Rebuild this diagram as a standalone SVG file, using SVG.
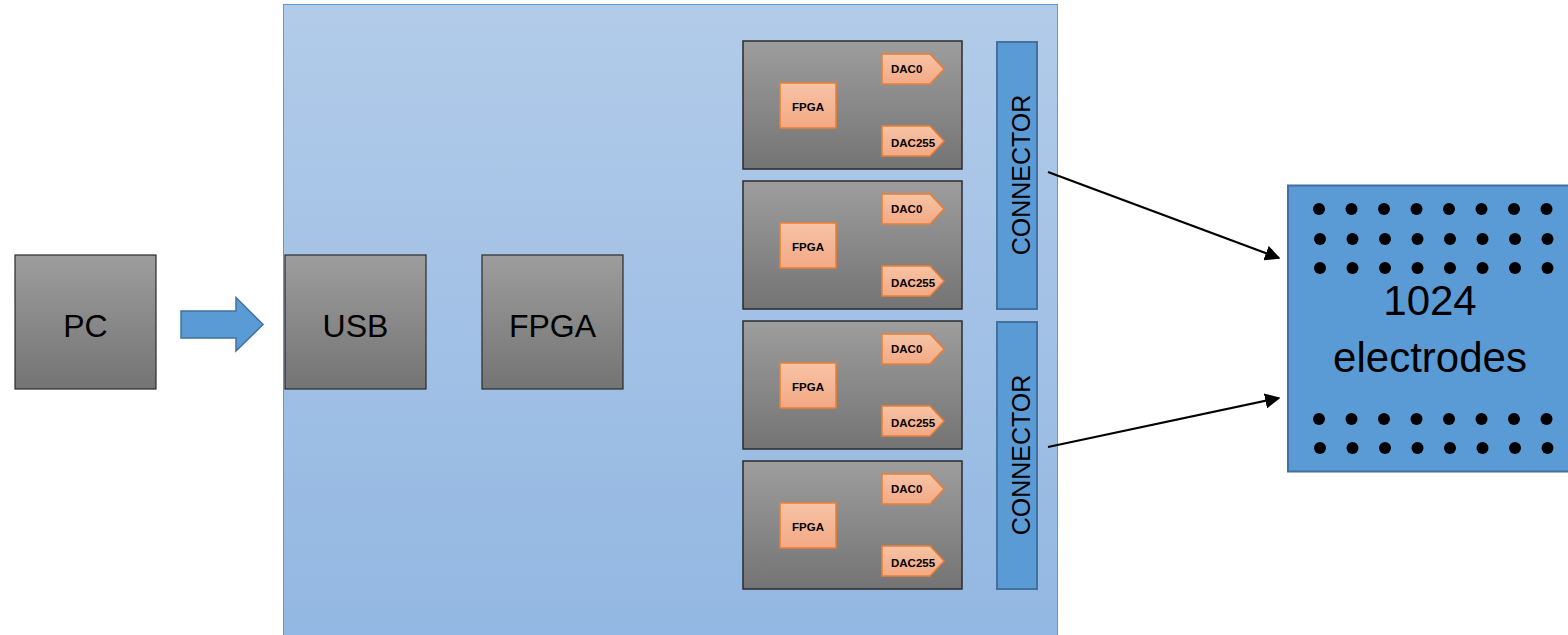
<svg xmlns="http://www.w3.org/2000/svg" width="1568" height="635" viewBox="0 0 1568 635">
<defs>
<linearGradient id="gBoard" x1="0" y1="0" x2="0" y2="1"><stop offset="0" stop-color="#b2cbe9"/><stop offset="1" stop-color="#92b7e2"/></linearGradient>
<linearGradient id="gGray" x1="0" y1="0" x2="0" y2="1"><stop offset="0" stop-color="#9d9d9d"/><stop offset="1" stop-color="#747474"/></linearGradient>
<linearGradient id="gOrange" x1="0" y1="0" x2="0" y2="1"><stop offset="0" stop-color="#f7c3a4"/><stop offset="1" stop-color="#f3a985"/></linearGradient>
<marker id="ah" viewBox="0 0 10 10" refX="9" refY="5" markerWidth="7" markerHeight="7" markerUnits="strokeWidth" orient="auto"><path d="M0,0 L10,5 L0,10 z" fill="#000"/></marker>
<symbol id="card" overflow="visible">
<rect x="0" y="0" width="219" height="128" fill="url(#gGray)" stroke="#2b2b2b" stroke-width="1.5"/>
<rect x="37" y="42" width="56" height="45" class="or"/>
<text x="65" y="70" class="sm" text-anchor="middle">FPGA</text>
<path d="M139,13 H187 L201,28 L187,43 H139 Z" class="or"/>
<text x="148" y="32" class="sm">DAC0</text>
<path d="M139,85 H187 L201,100 L187,115 H139 Z" class="or"/>
<text x="148" y="106" class="sm">DAC255</text>
</symbol>
</defs>
<style>
.gray{fill:url(#gGray);stroke:#2b2b2b;stroke-width:1.2}
.or{fill:url(#gOrange);stroke:#ed7d31;stroke-width:1.5}
.sm{font-family:"Liberation Sans",Arial,sans-serif;font-weight:bold;font-size:11.5px;fill:#000}
.big{font-family:"Liberation Sans",Arial,sans-serif;font-size:32px;fill:#000}
.conn{fill:#5b9bd5;stroke:#41719c;stroke-width:2}
.ct{font-family:"Liberation Sans",Arial,sans-serif;font-size:25px;fill:#000}
.el{font-family:"Liberation Sans",Arial,sans-serif;font-size:42px;fill:#000}
</style>
<rect width="1568" height="635" fill="#fff"/>
<g id="board"><rect x="283.5" y="4.5" width="774" height="640" fill="url(#gBoard)" stroke="#5b9bd5" stroke-width="1"/></g>
<g id="pc"><rect x="15" y="255" width="141" height="134" class="gray"/><text x="85.5" y="337" class="big" text-anchor="middle">PC</text></g>
<g id="usb"><rect x="285" y="255" width="141" height="134" class="gray"/><text x="355.5" y="337" class="big" text-anchor="middle">USB</text></g>
<g id="fpga"><rect x="482" y="255" width="141" height="134" class="gray"/><text x="552.5" y="337" class="big" text-anchor="middle">FPGA</text></g>
<g id="card1"><use href="#card" x="743" y="41"/></g>
<g id="card2"><use href="#card" x="743" y="181"/></g>
<g id="card3"><use href="#card" x="743" y="321"/></g>
<g id="card4"><use href="#card" x="743" y="461"/></g>
<g id="connector1"><rect x="997" y="42" width="40" height="267" class="conn"/><text transform="translate(1030,175) rotate(-90)" class="ct" text-anchor="middle">CONNECTOR</text></g>
<g id="connector2"><rect x="997" y="322" width="40" height="267" class="conn"/><text transform="translate(1030,455) rotate(-90)" class="ct" text-anchor="middle">CONNECTOR</text></g>
<g id="electrodes">
<rect x="1288" y="185.5" width="290" height="286" class="conn"/>
<g fill="#000">
<circle cx="1319" cy="209" r="6"/><circle cx="1351.5" cy="209" r="6"/><circle cx="1384" cy="209" r="6"/><circle cx="1416.5" cy="209" r="6"/><circle cx="1449" cy="209" r="6"/><circle cx="1481.5" cy="209" r="6"/><circle cx="1514" cy="209" r="6"/><circle cx="1546.5" cy="209" r="6"/>
<circle cx="1320" cy="239" r="6"/><circle cx="1352.5" cy="239" r="6"/><circle cx="1385" cy="239" r="6"/><circle cx="1417.5" cy="239" r="6"/><circle cx="1450" cy="239" r="6"/><circle cx="1482.5" cy="239" r="6"/><circle cx="1515" cy="239" r="6"/><circle cx="1547.5" cy="239" r="6"/>
<circle cx="1320" cy="268" r="6"/><circle cx="1352.5" cy="268" r="6"/><circle cx="1385" cy="268" r="6"/><circle cx="1417.5" cy="268" r="6"/><circle cx="1450" cy="268" r="6"/><circle cx="1482.5" cy="268" r="6"/><circle cx="1515" cy="268" r="6"/><circle cx="1547.5" cy="268" r="6"/>
<circle cx="1319" cy="419" r="6"/><circle cx="1351.5" cy="419" r="6"/><circle cx="1384" cy="419" r="6"/><circle cx="1416.5" cy="419" r="6"/><circle cx="1449" cy="419" r="6"/><circle cx="1481.5" cy="419" r="6"/><circle cx="1514" cy="419" r="6"/><circle cx="1546.5" cy="419" r="6"/>
<circle cx="1320" cy="448" r="6"/><circle cx="1352.5" cy="448" r="6"/><circle cx="1385" cy="448" r="6"/><circle cx="1417.5" cy="448" r="6"/><circle cx="1450" cy="448" r="6"/><circle cx="1482.5" cy="448" r="6"/><circle cx="1515" cy="448" r="6"/><circle cx="1547.5" cy="448" r="6"/>
</g>
<text x="1430" y="315" class="el" text-anchor="middle">1024</text>
<text x="1430" y="372" class="el" text-anchor="middle">electrodes</text>
</g>
<g id="connectors">
<path d="M181,311 H236 V297.5 L263,324.5 L236,351 V338 H181 Z" fill="#5b9bd5" stroke="#41719c" stroke-width="1.5"/>
<line x1="1048" y1="172" x2="1279" y2="258" stroke="#000" stroke-width="2.2" marker-end="url(#ah)"/>
<line x1="1048" y1="447" x2="1279" y2="398" stroke="#000" stroke-width="2.2" marker-end="url(#ah)"/>
</g>
</svg>
